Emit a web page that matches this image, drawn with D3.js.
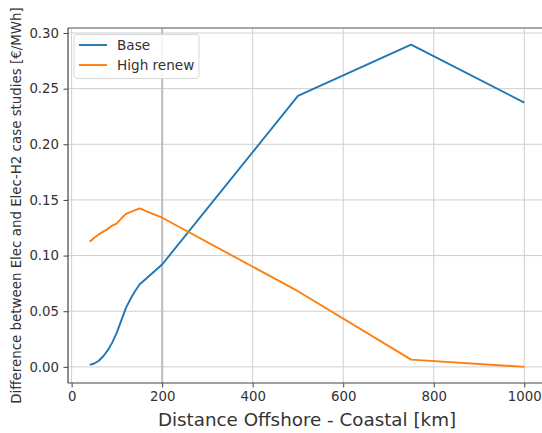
<!DOCTYPE html>
<html><head><meta charset="utf-8">
<script src="https://cdn.jsdelivr.net/npm/d3@7"></script>
<style>
body{margin:0;background:#fff;}
text{font-family:"DejaVu Sans",sans-serif;}
</style></head>
<body><svg id="c" width="542" height="433"></svg>
<script>
const baseX = [40,50,60,70,80,90,100,110,120,130,140,150,200,500,750,1000];
const baseY = [0.0018,0.003,0.0055,0.0095,0.015,0.022,0.031,0.042,0.053,0.061,0.068,0.074,0.092,0.2435,0.2895,0.2375];
const renewX = [40,50,60,70,80,90,100,110,120,150,200,500,750,1000];
const renewY = [0.1125,0.116,0.119,0.1215,0.124,0.127,0.129,0.1335,0.1375,0.1425,0.134,0.068,0.0065,0.0];
const xTicks = [0,200,400,600,800,1000];
const yTicks = [0.00,0.05,0.10,0.15,0.20,0.25,0.30];
const seriesNames = ["Base","High renew"];
const colors = ["#1f77b4","#ff7f0e"];

const svg = d3.select("#c");
const L=68, R=546, T=28, B=383;
const x = d3.scaleLinear().domain([-8,1048]).range([L,R]);
const y = d3.scaleLinear().domain([-0.0145,0.3045]).range([B,T]);

// grid
const g = svg.append("g");
g.selectAll("line.hy").data(yTicks).join("line")
  .attr("x1",L).attr("x2",R).attr("y1",d=>y(d)).attr("y2",d=>y(d))
  .attr("stroke","#cfcfcf").attr("stroke-width",1);
g.selectAll("line.vx").data(xTicks).join("line")
  .attr("y1",T).attr("y2",B).attr("x1",d=>x(d)).attr("x2",d=>x(d))
  .attr("stroke",d=>d===200?"#bdbdbd":"#cfcfcf").attr("stroke-width",d=>d===200?2:1);

// lines
const line = d3.line().x(d=>x(d[0])).y(d=>y(d[1]));
const data = [d3.zip(baseX,baseY), d3.zip(renewX,renewY)];
svg.selectAll("path.s").data(data).join("path")
  .attr("fill","none").attr("stroke",(d,i)=>colors[i]).attr("stroke-width",1.9)
  .attr("stroke-linejoin","round")
  .attr("d",line);

// spines
svg.append("line").attr("x1",L).attr("x2",R).attr("y1",T).attr("y2",T).attr("stroke","#8a8a8a").attr("stroke-width",1.5);
svg.append("line").attr("x1",L).attr("x2",L).attr("y1",T).attr("y2",B).attr("stroke","#444").attr("stroke-width",1.2);
svg.append("line").attr("x1",L).attr("x2",R).attr("y1",B).attr("y2",B).attr("stroke","#444").attr("stroke-width",1.2);

// axes
const xa = svg.append("g").attr("transform",`translate(0,${B})`)
  .call(d3.axisBottom(x).tickValues(xTicks).tickSize(4.5).tickPadding(4).tickFormat(d3.format("d")));
const ya = svg.append("g").attr("transform",`translate(${L},0)`)
  .call(d3.axisLeft(y).tickValues(yTicks).tickSize(4.5).tickPadding(4.5).tickFormat(d3.format(".2f")));
[xa,ya].forEach(a=>{
  a.select(".domain").remove();
  a.selectAll(".tick line").attr("stroke","#444");
  a.selectAll(".tick text").attr("fill","#333").style("font-size","13.3px").style("font-family","DejaVu Sans");
});

// labels
svg.append("text").attr("x",(L+R)/2).attr("y",425.5).attr("text-anchor","middle")
  .attr("fill","#333").style("font-size","18.3px").text("Distance Offshore - Coastal [km]");
svg.append("text").attr("transform",`translate(20.5,${(T+B)/2}) rotate(-90)`).attr("text-anchor","middle")
  .attr("fill","#333").style("font-size","13.4px").text("Difference between Elec and Elec-H2 case studies [€/MWh]");

// legend
const lg = svg.append("g");
lg.append("rect").attr("x",74).attr("y",34.5).attr("width",125).attr("height",44).attr("rx",3)
  .attr("fill","#fff").attr("fill-opacity",0.85).attr("stroke","#d8d8d8");
seriesNames.forEach((n,i)=>{
  const yy = 45+i*20;
  lg.append("line").attr("x1",79).attr("x2",107).attr("y1",yy).attr("y2",yy).attr("stroke",colors[i]).attr("stroke-width",1.9);
  lg.append("text").attr("x",117).attr("y",yy+4.8).attr("fill","#333").style("font-size","13.6px").text(n);
});
</script></body></html>
